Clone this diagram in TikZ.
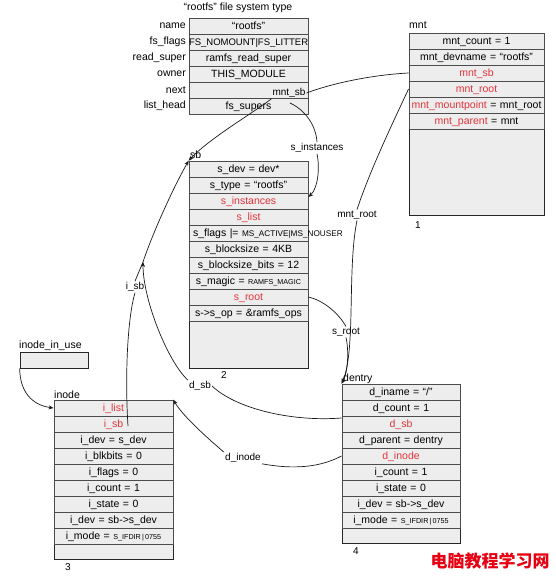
\documentclass[tikz,border=0pt]{standalone}
\usepackage{fontspec}
\setmainfont{Liberation Sans}
\newfontfamily\cjk{Noto Sans CJK SC}
\usetikzlibrary{arrows.meta}
\definecolor{boxgray}{RGB}{237,237,237}
\definecolor{fieldred}{RGB}{226,52,58}
\definecolor{markred}{RGB}{230,0,18}
\newcommand{\fieldfont}{\fontsize{10.5}{12}\selectfont}
\newcommand{\flagfont}{\fontsize{8.2}{10}\selectfont}
\newcommand{\constfont}{\fontsize{7.2}{9}\selectfont}
\tikzset{
  structbox/.style={draw=black!85, fill=boxgray, line width=0.7pt, inner sep=0pt},
  fieldrow/.style={draw=black!70, line width=0.9pt, fill=boxgray, minimum height=16pt,
    text width=#1, inner sep=0pt, align=center, text height=9.5pt, text depth=2.5pt, font=\fieldfont},
  fieldrow/.default=119pt,
  redfield/.style={text=fieldred},
  rowname/.style={anchor=east, inner sep=0pt, font=\fieldfont},
  boxtitle/.style={anchor=west, inner sep=0pt, font=\fieldfont},
  boxnum/.style={inner sep=0pt, font=\fontsize{10}{12}\selectfont},
  ptrlabel/.style={inner sep=1pt, font=\fontsize{10}{12}\selectfont},
  link/.style={line width=0.7pt, draw=black!90},
  ptr/.style={link, -{Stealth[length=5pt,width=4pt]}}
}

\begin{document}
\begin{tikzpicture}[x=1pt, y=-1pt]
  \useasboundingbox (0,0) rectangle (555,580);

  % file system type
  \node[boxtitle, anchor=center] (fstitle) at (238,8) {“rootfs” file system type};
  \node[fieldrow] (fsname)  at (248.5,26)  {“rootfs”};
  \node[fieldrow, font=\fontsize{9.5}{11}\selectfont] (fsflags) at (248.5,42) {FS\_NOMOUNT|FS\_LITTER};
  \node[fieldrow] (fsread)  at (248.5,58)  {ramfs\_read\_super};
  \node[fieldrow] (fsowner) at (248.5,74)  {THIS\_MODULE};
  \node[fieldrow] (fsnext)  at (248.5,90)  {};
  \node[fieldrow] (fslist)  at (248.5,106) {fs\_supers};
  \node[rowname] (nname)  at (186,26)  {name};
  \node[rowname] (nflags) at (186,42)  {fs\_flags};
  \node[rowname] (nread)  at (186,58)  {read\_super};
  \node[rowname] (nowner) at (186,74)  {owner};
  \node[rowname] (nnext)  at (186,90)  {next};
  \node[rowname] (nlist)  at (186,106) {list\_head};

  % mnt
  \node[boxtitle] (mnttitle) at (409,25) {mnt};
  \node[structbox, minimum width=135pt, minimum height=182pt] (mnt) at (476.5,124) {};
  \node[fieldrow=135pt] (mntcount)  at (476.5,41)  {mnt\_count = 1};
  \node[fieldrow=135pt] (mntdev)    at (476.5,57)  {mnt\_devname = “rootfs”};
  \node[fieldrow=135pt, redfield] (mntsb)   at (476.5,73)  {mnt\_sb};
  \node[fieldrow=135pt, redfield] (mntroot) at (476.5,89)  {mnt\_root};
  \node[fieldrow=135pt] (mntmount)  at (476.5,105) {\textcolor{fieldred}{mnt\_mountpoint} = mnt\_root};
  \node[fieldrow=135pt] (mntparent) at (476.5,121) {\textcolor{fieldred}{mnt\_parent} = mnt};
  \node[boxnum] (mntnum) at (418,225) {1};

  % sb
  \node[boxtitle] (sbtitle) at (190,155) {sb};
  \node[structbox, minimum width=119pt, minimum height=207pt] (sb) at (248.5,264.5) {};
  \node[fieldrow] (sbdev)   at (248.5,169) {s\_dev = dev*};
  \node[fieldrow] (sbtype)  at (248.5,185) {s\_type = “rootfs”};
  \node[fieldrow, redfield] (sbinst) at (248.5,201) {s\_instances};
  \node[fieldrow, redfield] (sblist) at (248.5,217) {s\_list};
  \node[fieldrow] (sbflags) at (248.5,233) {\mbox{\hspace{4pt}s\_flags |= {\flagfont MS\_ACTIVE|MS\_NOUSER}}};
  \node[fieldrow] (sbbsize) at (248.5,249) {s\_blocksize = 4KB};
  \node[fieldrow] (sbbits)  at (248.5,265) {s\_blocksize\_bits = 12};
  \node[fieldrow] (sbmagic) at (248.5,281) {s\_magic = {\constfont RAMFS\_MAGIC}};
  \node[fieldrow, redfield] (sbroot) at (248.5,297) {s\_root};
  \node[fieldrow] (sbops)   at (248.5,313) {s->s\_op = \&ramfs\_ops};
  \node[boxnum] (sbnum) at (224,375) {2};

  % inode_in_use
  \node[boxtitle] (inusetitle) at (19,346) {inode\_in\_use};
  \node[structbox, minimum width=68pt, minimum height=16pt] (inuse) at (54,360) {};

  % inode
  \node[boxtitle] (inodetitle) at (54,395) {inode};
  \node[structbox, minimum width=119pt, minimum height=159pt] (inode) at (113.5,479.5) {};
  \node[fieldrow, redfield] (ilist) at (113.5,408) {i\_list};
  \node[fieldrow, redfield] (isb)   at (113.5,424) {i\_sb};
  \node[fieldrow] (idev)   at (113.5,440) {i\_dev = s\_dev};
  \node[fieldrow] (iblk)   at (113.5,456) {i\_blkbits = 0};
  \node[fieldrow] (iflags) at (113.5,472) {i\_flags = 0};
  \node[fieldrow] (icount) at (113.5,488) {i\_count = 1};
  \node[fieldrow] (istate) at (113.5,504) {i\_state = 0};
  \node[fieldrow] (idevsb) at (113.5,520) {i\_dev = sb->s\_dev};
  \node[fieldrow] (imode)  at (113.5,536) {i\_mode = {\constfont S\_IFDIR\,|\,0755}};
  \node[boxnum] (inodenum) at (68,567) {3};

  % dentry
  \node[boxtitle] (dentrytitle) at (343,379) {dentry};
  \node[structbox, minimum width=118pt, minimum height=159pt] (dentry) at (401,463.5) {};
  \node[fieldrow=118pt] (diname)  at (401,392) {d\_iname = “/”};
  \node[fieldrow=118pt] (dcount)  at (401,408) {d\_count = 1};
  \node[fieldrow=118pt, redfield] (dsb)    at (401,424) {d\_sb};
  \node[fieldrow=118pt] (dparent) at (401,440) {d\_parent = dentry};
  \node[fieldrow=118pt, redfield] (dinode) at (401,456) {d\_inode};
  \node[fieldrow=118pt] (dicount) at (401,472) {i\_count = 1};
  \node[fieldrow=118pt] (distate) at (401,488) {i\_state = 0};
  \node[fieldrow=118pt] (didev)   at (401,504) {i\_dev = sb->s\_dev};
  \node[fieldrow=118pt] (dimode)  at (401,520) {i\_mode = {\constfont S\_IFDIR\,|\,0755}};
  \node[boxnum] (dentrynum) at (356,551) {4};

  % pointers
  \node[ptrlabel] (lmntsb) at (289,93) {mnt\_sb};
  \draw[link] (mntsb.west) .. controls (370,75) and (330,84) .. (lmntsb.east);
  \draw[ptr] (lmntsb.south west) .. controls (250,115) and (210,138) .. (sb.north west);

  \coordinate (supers) at (290,103);
  \node[ptrlabel, fill=white] (lsinst) at (317,148) {s\_instances};
  \draw[link] (supers) .. controls (305,110) and (316,125) .. (lsinst.north);
  \draw[ptr] (lsinst.south) .. controls (320,168) and (318,188) .. ([yshift=4pt]sbinst.east);

  \node[ptrlabel, fill=white] (lmntroot) at (357,215) {mnt\_root};
  \draw[link] (mntroot.west) .. controls (395,118) and (370,170) .. (lmntroot.north);
  \draw[ptr] (lmntroot.south) .. controls (347,270) and (356,350) .. (dentry.north west);

  \node[ptrlabel] (lsroot) at (346,332) {s\_root};
  \draw[link] (sbroot.east) .. controls (322,300) and (338,312) .. (lsroot.north);
  \draw[ptr] (lsroot.south) .. controls (349,350) and (348,372) .. (dentry.north west);

  \coordinate (isbout) at (128,426);
  \coordinate (sbjoin) at (143,262);
  \node[ptrlabel, fill=white] (lisb) at (135,287) {i\_sb};
  \draw[link] (isbout) .. controls (125,380) and (127,320) .. (lisb.south);
  \draw[ptr] (lisb.north) -- (sbjoin) .. controls (152,235) and (172,190) .. (sb.north west);

  \node[ptrlabel, fill=white] (ldsb) at (200,386) {d\_sb};
  \draw[link] ([yshift=6pt]dsb.west) .. controls (290,422) and (235,408) .. (ldsb.east);
  \draw[ptr] (ldsb.north west) .. controls (168,362) and (143,300) .. (sbjoin);

  \node[ptrlabel, fill=white] (ldinode) at (243,458) {d\_inode};
  \draw[link] (dinode.west) .. controls (315,470) and (285,468) .. (ldinode.south east);
  \draw[ptr] (ldinode.north west) .. controls (205,436) and (182,415) .. (inode.north east);

  \draw[ptr] (inuse.south west) .. controls (20,392) and (32,405) .. (ilist.west);

  \node[font=\cjk\bfseries\fontsize{17}{20}\selectfont, text=markred, inner sep=0pt] (mark) at (490,561) {电脑教程学习网};
\end{tikzpicture}
\end{document}
